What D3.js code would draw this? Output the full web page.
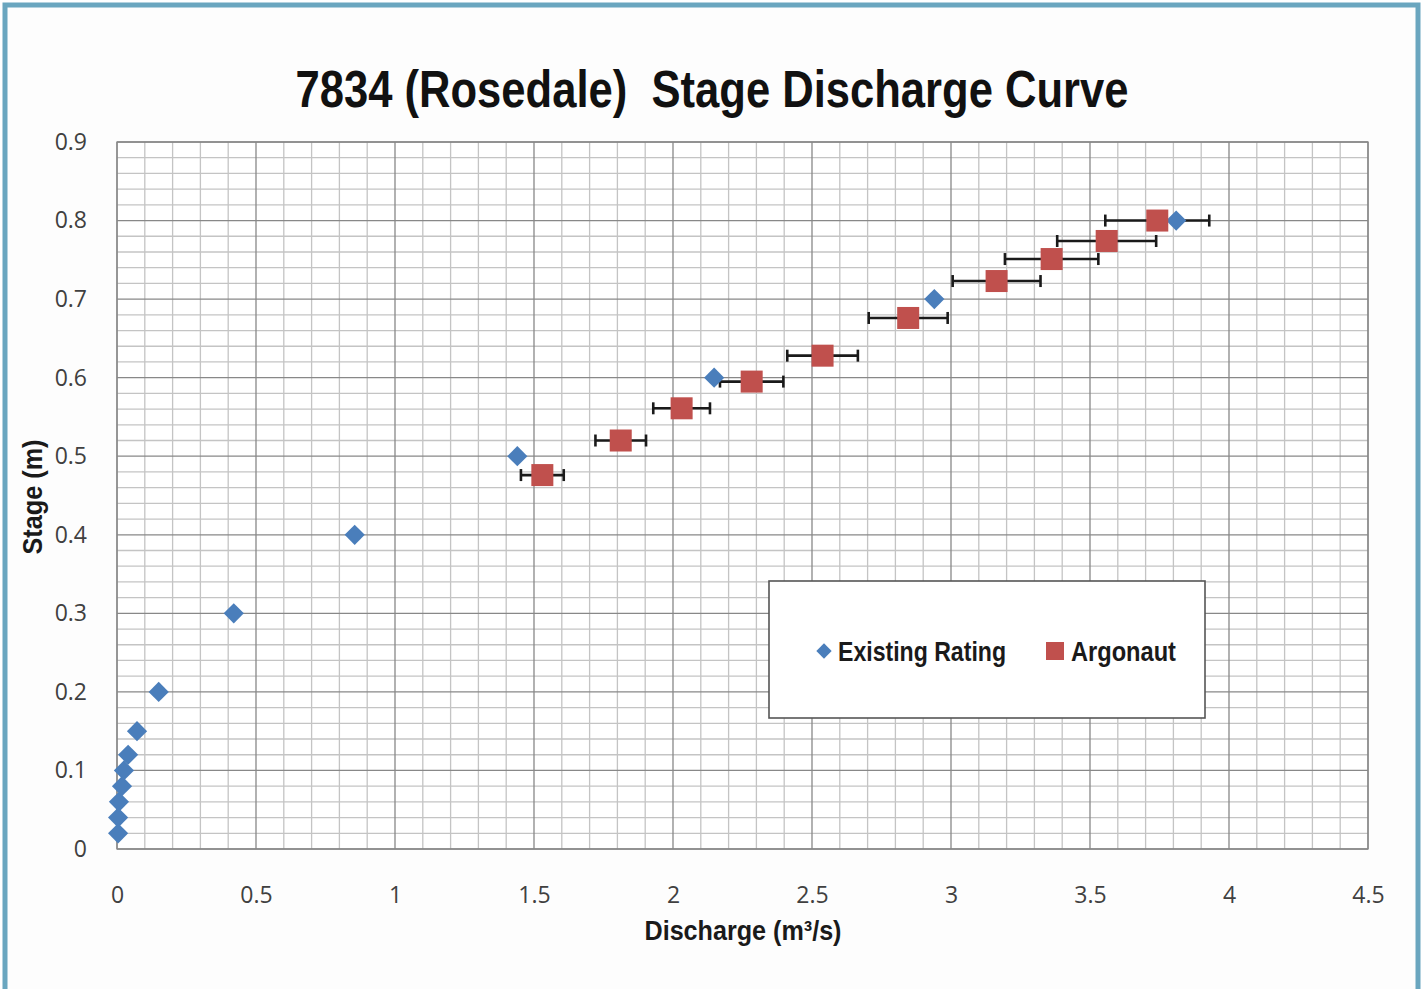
<!DOCTYPE html>
<html>
<head>
<meta charset="utf-8">
<script src="https://cdn.jsdelivr.net/npm/d3@7"></script>
<style>
  html, body { margin: 0; padding: 0; background: #fff; }
  svg { display: block; }
</style>
</head>
<body>
<div id="chart"></div>
<script>
// Existing rating (blue diamonds)
const ratingQ = [0.004, 0.004, 0.007, 0.018, 0.025, 0.04, 0.072, 0.15, 0.42, 0.855, 1.44, 2.148, 2.94, 3.81]
const ratingH = [0.02, 0.04, 0.06, 0.08, 0.10, 0.12, 0.15, 0.2, 0.3, 0.4, 0.5, 0.6, 0.7, 0.8]

// Argonaut measurements (red squares) with horizontal error bars
const argoQ = [1.530, 1.812, 2.031, 2.283, 2.538, 2.846, 3.164, 3.362, 3.560, 3.742]
const argoH = [0.476, 0.520, 0.561, 0.595, 0.628, 0.676, 0.723, 0.751, 0.774, 0.800]
const argoErr = [0.077, 0.091, 0.102, 0.114, 0.127, 0.142, 0.158, 0.168, 0.178, 0.187]

const xTicks = [0, 0.5, 1, 1.5, 2, 2.5, 3, 3.5, 4, 4.5]
const yTicks = [0, 0.1, 0.2, 0.3, 0.4, 0.5, 0.6, 0.7, 0.8, 0.9]

const titleText = "7834 (Rosedale)  Stage Discharge Curve"
const seriesNames = ["Existing Rating", "Argonaut"]

const blue = "#4a7ebb"
const red = "#c0504d"

var width = 1426
var height = 989
var narrow = "'Liberation Sans Narrow', 'Arial Narrow', 'Liberation Sans', sans-serif"
var plain = "'Open Sans', 'Liberation Sans', sans-serif"

var svg = d3.select("#chart")
            .append("svg")
            .attr("width", width)
            .attr("height", height)

// outer teal frame
svg.append("rect")
    .attr("x", 5).attr("y", 5)
    .attr("width", 1413).attr("height", 1000)
    .attr("fill", "#fdfdfd")
    .attr("stroke", "#6aa6bf")
    .attr("stroke-width", 5)

var x = d3.scaleLinear().domain([0, 4.5]).range([117, 1368])
var y = d3.scaleLinear().domain([0, 0.9]).range([849, 142])

var plot = svg.append("g")

plot.append("rect")
    .attr("x", x(0)).attr("y", y(0.9))
    .attr("width", x(4.5) - x(0)).attr("height", y(0) - y(0.9))
    .attr("fill", "#fff")

// minor grid
var minorX = d3.range(0, 46).map(i => i / 10).filter(v => !xTicks.includes(v))
var minorY = d3.range(0, 46).map(i => i / 50).filter(v => Math.abs(v * 10 - Math.round(v * 10)) > 1e-6)

plot.selectAll("line.minor-x")
    .data(minorX)
    .enter().append("line")
    .attr("x1", d => x(d)).attr("x2", d => x(d))
    .attr("y1", y(0)).attr("y2", y(0.9))
    .attr("stroke", "#c4c4c4").attr("stroke-width", 1.3)

plot.selectAll("line.minor-y")
    .data(minorY)
    .enter().append("line")
    .attr("x1", x(0)).attr("x2", x(4.5))
    .attr("y1", d => y(d)).attr("y2", d => y(d))
    .attr("stroke", "#c4c4c4").attr("stroke-width", 1.3)

// major grid
plot.selectAll("line.major-x")
    .data(xTicks)
    .enter().append("line")
    .attr("x1", d => x(d)).attr("x2", d => x(d))
    .attr("y1", y(0)).attr("y2", y(0.9))
    .attr("stroke", "#888").attr("stroke-width", 1.3)

plot.selectAll("line.major-y")
    .data(yTicks)
    .enter().append("line")
    .attr("x1", x(0)).attr("x2", x(4.5))
    .attr("y1", d => y(d)).attr("y2", d => y(d))
    .attr("stroke", "#888").attr("stroke-width", 1.3)

plot.append("rect")
    .attr("x", x(0)).attr("y", y(0.9))
    .attr("width", x(4.5) - x(0)).attr("height", y(0) - y(0.9))
    .attr("fill", "none")
    .attr("stroke", "#888").attr("stroke-width", 1.3)

// axes (labels only)
var xAxis = svg.append("g")
    .attr("transform", "translate(0," + 884 + ")")
    .call(d3.axisBottom(x).tickValues(xTicks).tickSize(0).tickFormat(d3.format("")))
xAxis.select(".domain").remove()
xAxis.selectAll("text")
    .attr("font-family", plain).attr("font-size", 23).attr("fill", "#404040")

var yAxis = svg.append("g")
    .attr("transform", "translate(" + 90 + ",0)")
    .call(d3.axisLeft(y).tickValues(yTicks).tickSize(0).tickFormat(d3.format("")))
yAxis.select(".domain").remove()
yAxis.selectAll("text")
    .attr("font-family", plain).attr("font-size", 23).attr("fill", "#404040")
    .attr("dy", "0.32em")

// error bars
var argo = argoQ.map((q, i) => ({ q: q, h: argoH[i], e: argoErr[i] }))

var bars = svg.append("g").selectAll("g")
    .data(argo)
    .enter().append("g")
    .attr("stroke", "#1a1a1a").attr("stroke-width", 2.6)

bars.append("line")
    .attr("x1", d => x(d.q - d.e)).attr("x2", d => x(d.q + d.e))
    .attr("y1", d => y(d.h)).attr("y2", d => y(d.h))
bars.append("line")
    .attr("x1", d => x(d.q - d.e)).attr("x2", d => x(d.q - d.e))
    .attr("y1", d => y(d.h) - 6).attr("y2", d => y(d.h) + 6)
bars.append("line")
    .attr("x1", d => x(d.q + d.e)).attr("x2", d => x(d.q + d.e))
    .attr("y1", d => y(d.h) - 6).attr("y2", d => y(d.h) + 6)

// existing rating diamonds
var diamond = d3.symbol().type(d3.symbolDiamond2).size(260)
svg.append("g").selectAll("path")
    .data(ratingQ.map((q, i) => ({ q: q, h: ratingH[i] })))
    .enter().append("path")
    .attr("d", diamond)
    .attr("transform", d => "translate(" + x(d.q) + "," + y(d.h) + ")")
    .attr("fill", blue)

// argonaut squares
svg.append("g").selectAll("rect")
    .data(argo)
    .enter().append("rect")
    .attr("x", d => x(d.q) - 11).attr("y", d => y(d.h) - 11)
    .attr("width", 22).attr("height", 22)
    .attr("fill", red)

// title
svg.append("text")
    .attr("x", 712).attr("y", 107)
    .attr("text-anchor", "middle")
    .attr("font-family", narrow).attr("font-weight", "bold")
    .attr("font-size", 52).attr("fill", "#111")
    .attr("textLength", 833).attr("lengthAdjust", "spacingAndGlyphs")
    .style("white-space", "pre")
    .text(titleText)

// axis titles
svg.append("text")
    .attr("x", 743).attr("y", 940)
    .attr("text-anchor", "middle")
    .attr("font-family", narrow).attr("font-weight", "bold")
    .attr("font-size", 27).attr("fill", "#1a1a1a")
    .attr("textLength", 197).attr("lengthAdjust", "spacingAndGlyphs")
    .text("Discharge (m³/s)")

svg.append("text")
    .attr("transform", "translate(42,497) rotate(-90)")
    .attr("text-anchor", "middle")
    .attr("font-family", narrow).attr("font-weight", "bold")
    .attr("font-size", 27).attr("fill", "#1a1a1a")
    .attr("textLength", 115).attr("lengthAdjust", "spacingAndGlyphs")
    .text("Stage (m)")

// legend
var legend = svg.append("g")
legend.append("rect")
    .attr("x", 769).attr("y", 581)
    .attr("width", 436).attr("height", 137)
    .attr("fill", "#fff")
    .attr("stroke", "#555").attr("stroke-width", 1.6)

legend.append("path")
    .attr("d", d3.symbol().type(d3.symbolDiamond2).size(150))
    .attr("transform", "translate(824,651)")
    .attr("fill", blue)
legend.append("text")
    .attr("x", 838).attr("y", 661)
    .attr("font-family", narrow).attr("font-weight", "bold")
    .attr("font-size", 28).attr("fill", "#1a1a1a")
    .attr("textLength", 168).attr("lengthAdjust", "spacingAndGlyphs")
    .text(seriesNames[0])

legend.append("rect")
    .attr("x", 1046).attr("y", 642)
    .attr("width", 18).attr("height", 18)
    .attr("fill", red)
legend.append("text")
    .attr("x", 1071).attr("y", 661)
    .attr("font-family", narrow).attr("font-weight", "bold")
    .attr("font-size", 28).attr("fill", "#1a1a1a")
    .attr("textLength", 105).attr("lengthAdjust", "spacingAndGlyphs")
    .text(seriesNames[1])
</script>
</body>
</html>
